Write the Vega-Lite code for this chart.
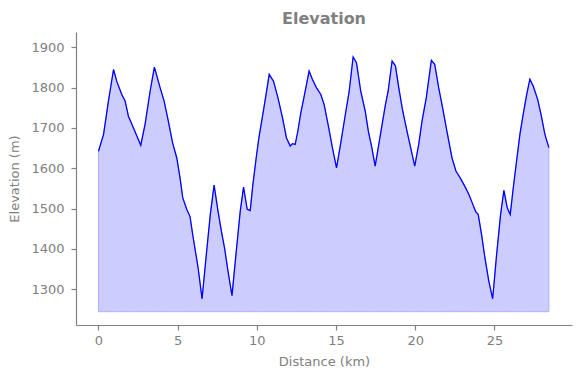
{
  "$schema": "https://vega.github.io/schema/vega-lite/v6.json",
  "autosize": "none",
  "width": 496,
  "height": 293,
  "padding": {"left": 76, "top": 32, "right": 8, "bottom": 53},
  "background": "white",
  "title": {"text": "Elevation", "font": "DejaVu Sans", "fontSize": 16, "fontWeight": "bold", "color": "#808080", "frame": "group", "anchor": "middle", "baseline": "alphabetic", "offset": 8, "dy": 16},
  "config": {
    "view": {"stroke": null},
    "axis": {"grid": false, "domainColor": "#808080", "tickColor": "#808080", "labelColor": "#808080", "titleColor": "#808080", "labelFont": "DejaVu Sans", "titleFont": "DejaVu Sans", "labelFontSize": 13, "titleFontSize": 13, "titleFontWeight": "normal", "tickSize": 5, "domainWidth": 1.2, "tickWidth": 1.2}
  },
  "data": {"values": [
    {"km": 0, "ele": 1642}, {"km": 0.32, "ele": 1684}, {"km": 0.63, "ele": 1767}, {"km": 0.95, "ele": 1845},
    {"km": 1.15, "ele": 1816}, {"km": 1.47, "ele": 1783}, {"km": 1.68, "ele": 1767}, {"km": 1.89, "ele": 1729},
    {"km": 2.21, "ele": 1700}, {"km": 2.67, "ele": 1657}, {"km": 2.94, "ele": 1709}, {"km": 3.26, "ele": 1791},
    {"km": 3.53, "ele": 1851}, {"km": 3.89, "ele": 1800}, {"km": 4.14, "ele": 1767}, {"km": 4.41, "ele": 1717},
    {"km": 4.68, "ele": 1663}, {"km": 4.94, "ele": 1626}, {"km": 5.15, "ele": 1576}, {"km": 5.32, "ele": 1527},
    {"km": 5.57, "ele": 1498}, {"km": 5.78, "ele": 1480}, {"km": 5.97, "ele": 1430}, {"km": 6.29, "ele": 1353},
    {"km": 6.54, "ele": 1276}, {"km": 6.81, "ele": 1386}, {"km": 7.06, "ele": 1485}, {"km": 7.30, "ele": 1558},
    {"km": 7.55, "ele": 1493}, {"km": 7.76, "ele": 1444}, {"km": 7.96, "ele": 1402}, {"km": 8.18, "ele": 1344},
    {"km": 8.43, "ele": 1284}, {"km": 8.70, "ele": 1394}, {"km": 8.95, "ele": 1493}, {"km": 9.16, "ele": 1553},
    {"km": 9.39, "ele": 1498}, {"km": 9.58, "ele": 1495}, {"km": 9.75, "ele": 1560}, {"km": 9.96, "ele": 1626},
    {"km": 10.13, "ele": 1676}, {"km": 10.34, "ele": 1725}, {"km": 10.55, "ele": 1775}, {"km": 10.78, "ele": 1833},
    {"km": 11.05, "ele": 1816}, {"km": 11.33, "ele": 1775}, {"km": 11.62, "ele": 1725}, {"km": 11.87, "ele": 1675},
    {"km": 12.11, "ele": 1655}, {"km": 12.25, "ele": 1661}, {"km": 12.42, "ele": 1659}, {"km": 12.57, "ele": 1688},
    {"km": 12.78, "ele": 1738}, {"km": 12.99, "ele": 1779}, {"km": 13.30, "ele": 1841}, {"km": 13.51, "ele": 1820},
    {"km": 13.76, "ele": 1800}, {"km": 14.04, "ele": 1783}, {"km": 14.25, "ele": 1758}, {"km": 14.52, "ele": 1704},
    {"km": 14.77, "ele": 1651}, {"km": 15.03, "ele": 1601}, {"km": 15.30, "ele": 1663}, {"km": 15.57, "ele": 1729},
    {"km": 15.83, "ele": 1791}, {"km": 16.08, "ele": 1876}, {"km": 16.29, "ele": 1862}, {"km": 16.56, "ele": 1791},
    {"km": 16.84, "ele": 1742}, {"km": 17.04, "ele": 1692}, {"km": 17.26, "ele": 1651}, {"km": 17.47, "ele": 1605},
    {"km": 17.70, "ele": 1659}, {"km": 17.91, "ele": 1709}, {"km": 18.12, "ele": 1758}, {"km": 18.29, "ele": 1791},
    {"km": 18.54, "ele": 1866}, {"km": 18.75, "ele": 1854}, {"km": 18.96, "ele": 1800}, {"km": 19.21, "ele": 1742},
    {"km": 19.48, "ele": 1692}, {"km": 19.69, "ele": 1655}, {"km": 19.97, "ele": 1605}, {"km": 20.22, "ele": 1659},
    {"km": 20.43, "ele": 1717}, {"km": 20.70, "ele": 1775}, {"km": 21.02, "ele": 1868}, {"km": 21.23, "ele": 1858},
    {"km": 21.48, "ele": 1800}, {"km": 21.73, "ele": 1750}, {"km": 22.00, "ele": 1692}, {"km": 22.32, "ele": 1626},
    {"km": 22.57, "ele": 1593}, {"km": 22.84, "ele": 1576}, {"km": 23.16, "ele": 1553}, {"km": 23.39, "ele": 1535},
    {"km": 23.60, "ele": 1514}, {"km": 23.81, "ele": 1493}, {"km": 23.98, "ele": 1485}, {"km": 24.19, "ele": 1435},
    {"km": 24.40, "ele": 1378}, {"km": 24.65, "ele": 1319}, {"km": 24.89, "ele": 1276}, {"km": 25.14, "ele": 1386},
    {"km": 25.39, "ele": 1485}, {"km": 25.60, "ele": 1545}, {"km": 25.81, "ele": 1502}, {"km": 26.00, "ele": 1485},
    {"km": 26.19, "ele": 1551}, {"km": 26.40, "ele": 1618}, {"km": 26.61, "ele": 1684}, {"km": 26.82, "ele": 1734},
    {"km": 27.04, "ele": 1783}, {"km": 27.24, "ele": 1821}, {"km": 27.45, "ele": 1804}, {"km": 27.73, "ele": 1771},
    {"km": 27.94, "ele": 1734}, {"km": 28.19, "ele": 1684}, {"km": 28.44, "ele": 1651}
  ]},
  "encoding": {
    "x": {"field": "km", "type": "quantitative", "scale": {"domain": [-1.42, 29.9], "nice": false, "zero": false},
      "axis": {"title": "Distance (km)", "values": [0, 5, 10, 15, 20, 25], "format": "d", "labelPadding": 4, "titlePadding": 8, "labelFlush": false}},
    "y": {"field": "ele", "type": "quantitative", "scale": {"domain": [1211, 1938], "nice": false, "zero": false},
      "axis": {"title": "Elevation (m)", "values": [1300, 1400, 1500, 1600, 1700, 1800, 1900], "format": "d", "labelPadding": 7, "titlePadding": 9, "labelFlush": false}}
  },
  "layer": [
    {"mark": {"type": "area", "fill": "#ccccff", "stroke": "#aeaeff", "strokeWidth": 1, "opacity": 1}, "encoding": {"y2": {"datum": 1244}}},
    {"mark": {"type": "line", "color": "#0000ff", "strokeWidth": 1.3}}
  ]
}
